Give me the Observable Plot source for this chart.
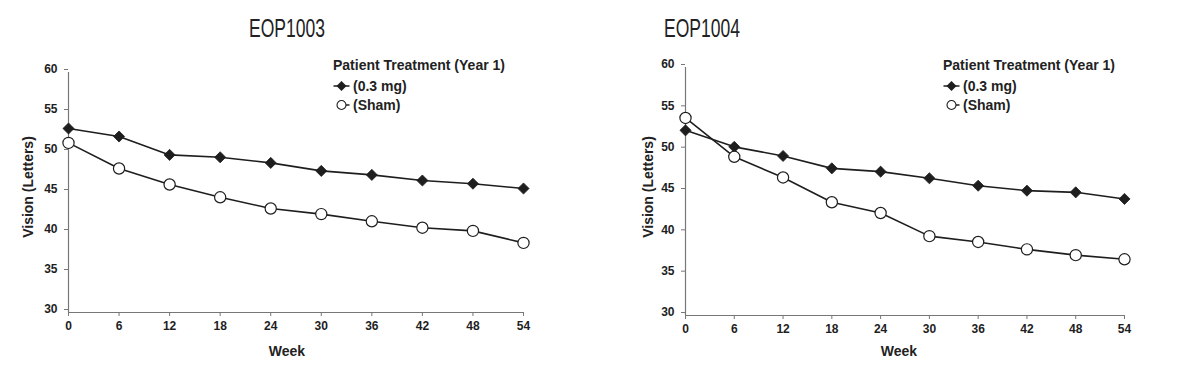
<!DOCTYPE html>
<html>
<head>
<meta charset="utf-8">
<script src="https://cdn.jsdelivr.net/npm/d3@7"></script>
<script src="https://cdn.jsdelivr.net/npm/@observablehq/plot@0.6"></script>
<style>
  html, body { margin: 0; padding: 0; background: #fff; }
  #page { position: relative; width: 1185px; height: 386px; overflow: hidden; background: #fff;
          font-family: "Liberation Sans", Arial, Helvetica, sans-serif; color: #222; }
  .panel { position: absolute; top: 0; }
  .title { position: absolute; font-family: "Liberation Sans", Arial, sans-serif;
           font-size: 25px; font-weight: normal; color: #222; white-space: nowrap;
           transform: translate(-50%, -50%) scaleX(0.7); }
  .lab { position: absolute; font-weight: bold; font-size: 14px; color: #222; white-space: nowrap; transform: translate(-50%, -50%); }
  .ylab { transform: translate(-50%, -50%) rotate(-90deg); }
  .legend { position: absolute; font-weight: bold; font-size: 14px; color: #222; white-space: nowrap; }
  .legend .row { display: flex; align-items: center; height: 19.5px; }
  .legend .head { height: 21px; line-height: 21px; }
  .legend svg { margin-right: 3px; }
</style>
</head>
<body>
<div id="page"></div>
<script>
// ---- data ----
const weeks = [0, 6, 12, 18, 24, 30, 36, 42, 48, 54];
const yTicks = [30, 35, 40, 45, 50, 55, 60];
const seriesNames = ["(0.3 mg)", "(Sham)"];
const legendTitle = "Patient Treatment (Year 1)";
const eop1003Drug = [53.0, 52.0, 49.7, 49.4, 48.7, 47.7, 47.2, 46.5, 46.1, 45.5];
const eop1003Sham = [51.2, 48.0, 46.0, 44.4, 43.0, 42.3, 41.4, 40.6, 40.2, 38.7];
const eop1004Drug = [52.4, 50.4, 49.3, 47.8, 47.4, 46.6, 45.7, 45.1, 44.9, 44.1];
const eop1004Sham = [53.9, 49.2, 46.7, 43.7, 42.4, 39.6, 38.9, 38.0, 37.3, 36.8];

const page = document.getElementById("page");
const ink = "#1e1e1e";

function makeChart(opts) {
  const drug = weeks.map((w, i) => ({week: w, value: opts.drug[i]}));
  const sham = weeks.map((w, i) => ({week: w, value: opts.sham[i]}));
  const chart = Plot.plot({
    width: opts.width,
    height: 386,
    marginLeft: opts.ml, marginRight: opts.mr, marginTop: opts.mt, marginBottom: opts.mb,
    style: {background: "transparent", color: ink, fontFamily: "'Liberation Sans', Arial, sans-serif"},
    x: {domain: [0, 54]},
    y: {domain: [30, 60]},
    marks: [
      Plot.ruleY([30], {stroke: "#777", strokeWidth: 1.2}),
      Plot.ruleX([0], {stroke: "#777", strokeWidth: 1.2}),
      Plot.axisX({ticks: weeks, tickSize: 4, tickPadding: 5, stroke: "#777", fontWeight: "bold", fontSize: 12, label: null}),
      Plot.axisY({ticks: yTicks, tickSize: 4, tickPadding: 7, stroke: "#777", fontWeight: "bold", fontSize: 12, dy: -3, label: null}),
      Plot.line(drug, {x: "week", y: "value", stroke: ink, strokeWidth: 1.6}),
      Plot.line(sham, {x: "week", y: "value", stroke: ink, strokeWidth: 1.6}),
      Plot.dot(drug, {x: "week", y: "value", symbol: "diamond2", r: 5, fill: ink, stroke: ink, strokeWidth: 0.8}),
      Plot.dot(sham, {x: "week", y: "value", symbol: "circle", r: 5.6, fill: "#fff", stroke: ink, strokeWidth: 1.2})
    ]
  });
  const wrap = document.createElement("div");
  wrap.className = "panel";
  wrap.style.left = opts.left + "px";
  wrap.appendChild(chart);
  page.appendChild(wrap);
}

function addText(cls, text, x, y) {
  const d = document.createElement("div");
  d.className = cls;
  d.textContent = text;
  d.style.left = x + "px";
  d.style.top = y + "px";
  page.appendChild(d);
}

function addLegend(x, y) {
  const lg = document.createElement("div");
  lg.className = "legend";
  lg.style.left = x + "px";
  lg.style.top = y + "px";
  const head = document.createElement("div");
  head.className = "head";
  head.textContent = legendTitle;
  lg.appendChild(head);
  const symbols = [
    `<svg width="17" height="12" viewBox="-8.5 -6 17 12"><line x1="-8" x2="8" y1="0" y2="0" stroke="${ink}" stroke-width="1.5"/><path d="M0,-5L5,0L0,5L-5,0Z" fill="${ink}"/></svg>`,
    `<svg width="17" height="12" viewBox="-8.5 -6 17 12"><line x1="-2" x2="8" y1="0" y2="0" stroke="${ink}" stroke-width="1.5"/><circle r="4.5" fill="#fff" stroke="${ink}" stroke-width="1.1"/></svg>`
  ];
  seriesNames.forEach((name, i) => {
    const row = document.createElement("div");
    row.className = "row";
    row.innerHTML = symbols[i] + "<span>" + name + "</span>";
    lg.appendChild(row);
  });
  page.appendChild(lg);
}

// Left panel: EOP1003
makeChart({left: 0, width: 600, ml: 68, mr: 77, mt: 72, mb: 74, drug: eop1003Drug, sham: eop1003Sham});
addText("title", "EOP1003", 287, 28);
addText("lab ylab", "Vision (Letters)", 28, 187);
addText("lab", "Week", 287, 351);
addLegend(333, 55);

// Right panel: EOP1004
makeChart({left: 600, width: 585, ml: 85, mr: 61, mt: 67, mb: 71, drug: eop1004Drug, sham: eop1004Sham});
addText("title", "EOP1004", 702, 28);
addText("lab ylab", "Vision (Letters)", 648, 187);
addText("lab", "Week", 899, 351);
addLegend(943, 55);
</script>
</body>
</html>
